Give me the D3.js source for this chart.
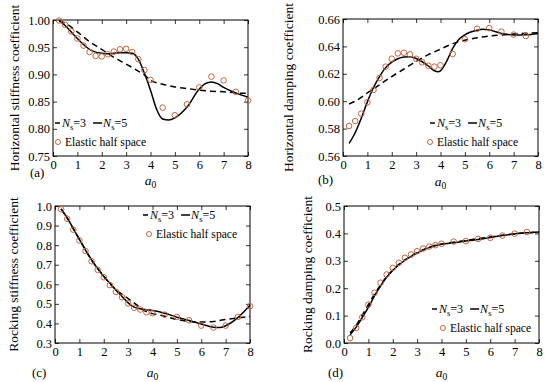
<!DOCTYPE html>
<html>
<head>
<meta charset="utf-8">
<script src="https://cdn.jsdelivr.net/npm/d3@7"></script>
<style>
  html, body { margin: 0; padding: 0; background: #fff; }
  svg { display: block; font-family: "Liberation Serif", "Times New Roman", serif; }
</style>
</head>
<body>
<svg id="chart" width="550" height="382"></svg>
<script>
// ─── DATA ─────────────────────────────────────────────────────────────────────

const circA0 = [0.25, 0.5, 0.75, 1, 1.25, 1.5, 1.75, 2, 2.25, 2.5, 2.75, 3, 3.25, 3.5, 3.75, 4,
                4.5, 5, 5.5, 6, 6.5, 7, 7.5, 8];
const circA0b = [0.25, 0.5, 0.75, 1, 1.25, 1.5, 1.75, 2, 2.25, 2.5, 2.75, 3, 3.25, 3.5, 3.75, 4,
                 4.5, 5, 5.5, 6, 6.5, 7, 7.5];

// (a) horizontal stiffness
const hsHalf = [0.999, 0.991, 0.979, 0.966, 0.953, 0.941, 0.934, 0.933, 0.937, 0.942, 0.946, 0.947,
                0.941, 0.928, 0.908, 0.890, 0.839, 0.825, 0.845, 0.876, 0.896, 0.889, 0.868, 0.852];
const hsN5A0 = [0.25, 0.5, 0.75, 1, 1.25, 1.5, 1.75, 2, 2.25, 2.5, 2.75, 3, 3.25, 3.5, 3.75, 4,
                4.25, 4.5, 4.75, 5, 5.5, 6, 6.25, 6.5, 6.75, 7, 7.5, 8];
const hsN5 = [0.999, 0.990, 0.978, 0.966, 0.955, 0.946, 0.941, 0.939, 0.938, 0.939, 0.940, 0.940,
              0.939, 0.928, 0.902, 0.871, 0.836, 0.818, 0.816, 0.820, 0.840, 0.873, 0.883, 0.886,
              0.883, 0.876, 0.866, 0.858];
const hsN3A0 = [0.25, 0.5, 1, 1.5, 2, 2.5, 3, 3.5, 3.75, 4, 4.5, 5, 5.5, 6, 6.5, 7, 7.5, 8];
const hsN3 = [0.998, 0.994, 0.978, 0.960, 0.946, 0.931, 0.919, 0.906, 0.899, 0.889, 0.882, 0.877,
              0.874, 0.871, 0.869, 0.868, 0.866, 0.865];

// (b) horizontal damping
const hdHalf = [0.5819, 0.5855, 0.5909, 0.5992, 0.6082, 0.6170, 0.6252, 0.6310, 0.6349, 0.6354,
                0.6342, 0.6310, 0.6284, 0.6259, 0.6252, 0.6262, 0.6345, 0.6452, 0.6529, 0.6534,
                0.6508, 0.6486, 0.6476];
const hdN5A0 = [0.25, 0.5, 0.75, 1, 1.25, 1.5, 1.75, 2, 2.25, 2.5, 2.75, 3, 3.25, 3.5, 3.75, 3.9,
                4, 4.25, 4.5, 4.75, 5, 5.5, 5.75, 6, 6.5, 7, 7.5, 8];
const hdN5 = [0.5692, 0.5770, 0.5875, 0.5995, 0.6100, 0.6180, 0.6245, 0.6285, 0.6310, 0.6322,
              0.6325, 0.6312, 0.6288, 0.6257, 0.6222, 0.6215, 0.6222, 0.6290, 0.6385, 0.6450,
              0.6485, 0.6518, 0.6525, 0.6520, 0.6495, 0.6483, 0.6485, 0.6495];
const hdN3A0 = [0.25, 0.5, 1, 1.5, 2, 2.5, 3, 3.5, 4, 4.5, 5, 5.5, 6, 6.5, 7, 7.5, 8];
const hdN3 = [0.598, 0.600, 0.606, 0.612, 0.618, 0.6235, 0.629, 0.634, 0.638, 0.642, 0.6445,
              0.6463, 0.6475, 0.6483, 0.649, 0.6496, 0.650];

// (c) rocking stiffness
const rsHalf = [0.983, 0.935, 0.879, 0.824, 0.770, 0.718, 0.674, 0.636, 0.596, 0.561, 0.534, 0.502,
                0.480, 0.471, 0.457, 0.452, 0.445, 0.433, 0.416, 0.389, 0.379, 0.389, 0.433, 0.488];
const rsN5A0 = [0.25, 0.5, 0.75, 1, 1.25, 1.5, 1.75, 2, 2.25, 2.5, 2.75, 3, 3.25, 3.5, 3.75, 4,
                4.5, 5, 5.5, 6, 6.5, 6.75, 7, 7.5, 8];
const rsN5 = [0.985, 0.940, 0.885, 0.830, 0.775, 0.725, 0.680, 0.640, 0.605, 0.570, 0.538, 0.505,
              0.483, 0.475, 0.470, 0.466, 0.452, 0.432, 0.415, 0.397, 0.381, 0.379, 0.388, 0.430,
              0.493];
const rsN3A0 = [0.25, 0.5, 1, 1.5, 2, 2.5, 2.75, 3, 3.25, 3.5, 3.75, 4, 4.5, 5, 5.5, 6, 6.5, 7,
                7.5, 8];
const rsN3 = [0.985, 0.938, 0.830, 0.724, 0.642, 0.572, 0.550, 0.527, 0.505, 0.480, 0.460, 0.450,
              0.437, 0.420, 0.410, 0.407, 0.410, 0.420, 0.428, 0.435];

// (d) rocking damping
const rdHalf = [0.018, 0.055, 0.094, 0.140, 0.183, 0.220, 0.250, 0.274, 0.293, 0.311, 0.323, 0.335,
                0.345, 0.352, 0.357, 0.362, 0.370, 0.372, 0.380, 0.384, 0.392, 0.399, 0.405];
const rdA0 = [0.25, 0.5, 0.75, 1, 1.25, 1.5, 1.75, 2, 2.5, 3, 3.5, 4, 4.5, 5, 5.5, 6, 6.5, 7, 7.5, 8];
const rdN5 = [0.030, 0.058, 0.093, 0.130, 0.172, 0.208, 0.240, 0.265, 0.302, 0.328, 0.348, 0.360,
              0.366, 0.372, 0.378, 0.385, 0.392, 0.398, 0.402, 0.405];
const rdN3 = [0.037, 0.065, 0.102, 0.140, 0.178, 0.212, 0.242, 0.267, 0.303, 0.330, 0.350, 0.361,
              0.368, 0.374, 0.381, 0.387, 0.393, 0.398, 0.402, 0.405];

const xTicks = [0, 1, 2, 3, 4, 5, 6, 7, 8];

// ─── PANELS ───────────────────────────────────────────────────────────────────

const zip = (xs, ys) => xs.map((x, i) => [x, ys[i]]);

const panels = [
  { tag: "(a)", ylabel: "Horizontal stiffness coefficient",
    box: { l: 53, r: 248, t: 20, b: 156 }, yDomain: [0.75, 1.0], yTicks: d3.range(0.75, 1.001, 0.05), fmt: ".2f",
    n3: zip(hsN3A0, hsN3), n5: zip(hsN5A0, hsN5), half: zip(circA0, hsHalf),
    ylx: 15, tagX: 30, tagY: 177, xlY: 185,
    legend: { x: 55, y1: 127, y2: 146, circX: 58 } },
  { tag: "(b)", ylabel: "Horizontal damping coefficient",
    box: { l: 343, r: 538, t: 19, b: 156 }, yDomain: [0.56, 0.66], yTicks: d3.range(0.56, 0.6601, 0.02), fmt: ".2f",
    n3: zip(hdN3A0, hdN3), n5: zip(hdN5A0, hdN5), half: zip(circA0b, hdHalf),
    ylx: 289, tagX: 318, tagY: 184, xlY: 186,
    legend: { x: 430, y1: 127, y2: 146, circX: 430 } },
  { tag: "(c)", ylabel: "Rocking stiffness coefficient",
    box: { l: 55, r: 250, t: 206, b: 343 }, yDomain: [0.3, 1.0], yTicks: d3.range(0.3, 1.001, 0.1), fmt: ".1f",
    n3: zip(rsN3A0, rsN3), n5: zip(rsN5A0, rsN5), half: zip(circA0, rsHalf),
    ylx: 14, tagX: 32, tagY: 377, xlY: 377,
    legend: { x: 143, y1: 219, y2: 238, circX: 149 } },
  { tag: "(d)", ylabel: "Rocking damping coefficient",
    box: { l: 344, r: 539, t: 206, b: 343 }, yDomain: [0, 0.5], yTicks: d3.range(0, 0.501, 0.1), fmt: ".1f",
    n3: zip(rdA0, rdN3), n5: zip(rdA0, rdN5), half: zip(circA0b, rdHalf),
    ylx: 308, tagX: 328, tagY: 377, xlY: 377,
    legend: { x: 432, y1: 313, y2: 332, circX: 443 } },
];

const CIRC_COLOR = "#c0663f";
const svg = d3.select("#chart");

function nsLabel(g, x, y, num) {
  const t = g.append("text").attr("x", x).attr("y", y).style("font-size", "12px");
  t.append("tspan").style("font-style", "italic").text("N");
  t.append("tspan").attr("dy", 3).style("font-size", "8.5px").text("s");
  t.append("tspan").attr("dy", -3).text("=" + num);
  return t;
}

function drawPanel(p) {
  const { l, r, t, b } = p.box;
  const x = d3.scaleLinear().domain([0, 8]).range([l, r]);
  const y = d3.scaleLinear().domain(p.yDomain).range([b, t]);
  const g = svg.append("g");

  // axes, ticks pointing inward
  const styleAxis = sel => {
    sel.select(".domain").remove();
    sel.selectAll(".tick line").attr("stroke", "#000").attr("stroke-width", 0.8);
    sel.selectAll(".tick text").style("font-size", "12.5px").style("font-family", "Liberation Serif").attr("fill", "#000");
  };
  g.append("g").attr("transform", `translate(0,${b})`)
    .call(d3.axisBottom(x).tickValues(xTicks).tickSizeInner(-4).tickSizeOuter(0).tickPadding(4).tickFormat(d3.format("d")))
    .call(styleAxis);
  g.append("g").attr("transform", `translate(0,${t})`)
    .call(d3.axisTop(x).tickValues(xTicks).tickSizeInner(-4).tickSizeOuter(0).tickFormat(""))
    .call(styleAxis);
  g.append("g").attr("transform", `translate(${l},0)`)
    .call(d3.axisLeft(y).tickValues(p.yTicks).tickSizeInner(-4).tickSizeOuter(0).tickPadding(3).tickFormat(d3.format(p.fmt)))
    .call(styleAxis);
  g.append("g").attr("transform", `translate(${r},0)`)
    .call(d3.axisRight(y).tickValues(p.yTicks).tickSizeInner(-4).tickSizeOuter(0).tickFormat(""))
    .call(styleAxis);

  g.append("rect").attr("x", l).attr("y", t).attr("width", r - l).attr("height", b - t)
    .attr("fill", "none").attr("stroke", "#000").attr("stroke-width", 1);

  const line = d3.line().x(d => x(d[0])).y(d => y(d[1])).curve(d3.curveMonotoneX);

  g.append("path").datum(p.n3).attr("d", line)
    .attr("fill", "none").attr("stroke", "#000").attr("stroke-width", 1.5).attr("stroke-dasharray", "6,4");
  g.append("path").datum(p.n5).attr("d", line)
    .attr("fill", "none").attr("stroke", "#000").attr("stroke-width", 1.5);

  g.selectAll("circle.half").data(p.half).join("circle").attr("class", "half")
    .attr("cx", d => x(d[0])).attr("cy", d => y(d[1])).attr("r", 2.8)
    .attr("fill", "none").attr("stroke", CIRC_COLOR).attr("stroke-width", 1);

  // labels
  g.append("text").attr("transform", `translate(${p.ylx + 4},${(t + b) / 2}) rotate(-90)`)
    .attr("text-anchor", "middle").style("font-size", "13.5px").text(p.ylabel);
  const xl = g.append("text").attr("x", (l + r) / 2).attr("y", p.xlY).attr("text-anchor", "middle").style("font-size", "13.5px");
  xl.append("tspan").style("font-style", "italic").text("a");
  xl.append("tspan").attr("dy", 3).style("font-size", "9.5px").text("0");
  g.append("text").attr("x", p.tagX).attr("y", p.tagY).style("font-size", "13px").text(p.tag);

  // legend
  const L = p.legend;
  g.append("line").attr("x1", L.x).attr("x2", L.x + 5).attr("y1", L.y1 - 4).attr("y2", L.y1 - 4)
    .attr("stroke", "#000").attr("stroke-width", 1.5);
  const t3 = nsLabel(g, L.x + 7, L.y1, 3);
  const w3 = t3.node().getComputedTextLength();
  const sx = L.x + 7 + w3 + 7;
  g.append("line").attr("x1", sx).attr("x2", sx + 9).attr("y1", L.y1 - 4).attr("y2", L.y1 - 4)
    .attr("stroke", "#000").attr("stroke-width", 1.5);
  nsLabel(g, sx + 10, L.y1, 5);
  g.append("circle").attr("cx", L.circX).attr("cy", L.y2 - 4).attr("r", 2.5)
    .attr("fill", "none").attr("stroke", CIRC_COLOR).attr("stroke-width", 1);
  g.append("text").attr("x", L.circX + 7).attr("y", L.y2).style("font-size", "11.6px").text("Elastic half space");
}

panels.forEach(drawPanel);
</script>
</body>
</html>
